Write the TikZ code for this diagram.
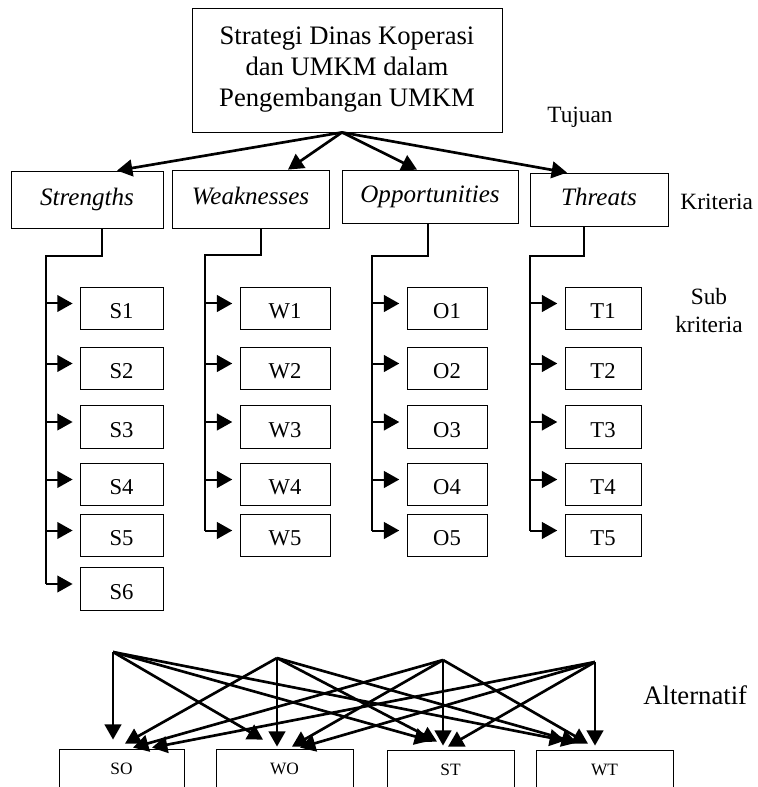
\documentclass[tikz,border=0pt]{standalone}
\usepackage{fontspec}
\setmainfont{Liberation Serif}
\usetikzlibrary{arrows.meta, calc}

\begin{document}
\begin{tikzpicture}[x=0.75pt,y=-0.75pt]
        \useasboundingbox (0,0) rectangle (757,787);
        \clip (0,0) rectangle (757,787);
        \begin{scope}[>={Triangle[length=11.5pt,width=12.5pt]}, line width=0.6pt,
            goal node/.style={rectangle,draw,align=center,minimum width=232.5pt,minimum height=93pt,font=\fontsize{20}{23.25}\selectfont},
            crit node/.style={rectangle,draw,minimum height=42.75pt,text height=13pt,text depth=4pt,font=\itshape\fontsize{18.8}{22}\selectfont},
            sub node/.style={rectangle,draw,minimum height=32pt,text height=15pt,text depth=0pt,font=\fontsize{17}{20}\selectfont},
            alt node/.style={rectangle,draw,minimum height=30pt,font=\fontsize{13}{15}\selectfont},
            side node/.style={inner sep=0pt,align=center,font=\fontsize{17.5}{21}\selectfont},
            main arrow/.style={->,line width=2pt},
            spine/.style={line width=1.5pt}]
        % goal and criteria
        \node[goal node] (goal) at (347,70) {Strategi Dinas Koperasi\\dan UMKM dalam\\Pengembangan UMKM};
        \node[crit node, minimum width=114pt] (str) at (87,199.5) {Strengths};
        \node[crit node, minimum width=117.75pt, minimum height=43.5pt] (wk) at (250.5,199) {Weaknesses};
        \node[crit node, minimum width=132pt, minimum height=39.75pt] (opp) at (430,196.5) {Opportunities};
        \node[crit node, minimum width=103.5pt, minimum height=39.75pt] (thr) at (599,199.5) {Threats};
        % level labels
        \node[side node] (goalLbl) at (580,117) {Tujuan};
        \node[side node, anchor=west] (critLbl) at (680,202) {Kriteria};
        \node[side node] (subLbl) at (709,311) {Sub\\kriteria};
        \node[side node, anchor=west, font=\fontsize{20}{24}\selectfont] (altLbl) at (643,695) {Alternatif};
        % sub criteria
        \foreach \i/\y in {1/308.5,2/368.5,3/427,4/484.5,5/535.5,6/589}
            \node[sub node, minimum width=62.25pt] (S\i) at (121.5,\y) {S\i};
        \foreach \i/\y in {1/308.5,2/368.5,3/427,4/484.5,5/535.5} {
            \node[sub node, minimum width=67.5pt] (W\i) at (285,\y) {W\i};
            \node[sub node, minimum width=60pt] (O\i) at (447,\y) {O\i};
            \node[sub node, minimum width=57pt] (T\i) at (603,\y) {T\i};
        }
        % alternatives
        \node[alt node, minimum width=93.75pt] (SO) at (121.5,769) {SO};
        \node[alt node, minimum width=102.75pt] (WO) at (284.5,769) {WO};
        \node[alt node, minimum width=95.25pt] (ST) at (450.5,770) {ST};
        \node[alt node, minimum width=102.75pt] (WT) at (604.5,770) {WT};

        % goal -> criteria
        \coordinate (apex) at ($(goal.south)+(-5,0)$);
        \draw[main arrow] (apex) -- ($(str.north)+(30,0)$);
        \draw[main arrow] (apex) -- ($(wk.north)+(37.5,0)$);
        \draw[main arrow] (apex) -- ($(opp.north)+(-13,0)$);
        \draw[main arrow] (apex) -- ($(thr.north)+(-32,0)$);

        % criteria -> sub criteria
        \coordinate (sS) at (46,256);
        \coordinate (sW) at (205,255);
        \coordinate (sO) at (372,256);
        \coordinate (sT) at (530,256);
        \draw[spine] ($(str.south)+(15,0)$) |- (sS) -- ($(sS |- S6.west)+(0,-5)$);
        \draw[spine] ($(wk.south)+(10,0)$) |- (sW) -- ($(sW |- W5.west)+(0,-5)$);
        \draw[spine] ($(opp.south)+(-2,0)$) |- (sO) -- ($(sO |- O5.west)+(0,-5)$);
        \draw[spine] ($(thr.south)+(-15,0)$) |- (sT) -- ($(sT |- T5.west)+(0,-5)$);
        \foreach \i in {1,...,6}
            \draw[spine,->,shorten >=5.25pt] ($(sS |- S\i.west)+(0,-5)$) -- ($(S\i.west)+(0,-5)$);
        \foreach \c in {W,O,T}
            \foreach \i in {1,...,5}
                \draw[spine,->,shorten >=5.5pt] ($(s\c |- \c\i.west)+(0,-5)$) -- ($(\c\i.west)+(0,-5)$);

        % criteria -> alternatives
        \coordinate (fS) at (113,652);
        \coordinate (fW) at (277,658);
        \coordinate (fO) at (443,660);
        \coordinate (fT) at (595,662);
        \foreach \src/\dst/\dx/\dy in {fS/SO/-8.5/-9, fW/SO/3.5/-5, fO/SO/11.5/-1, fT/SO/30.5/-1,
                fS/WO/-21.5/-9, fW/WO/-7.5/-2, fO/WO/7.5/-2, fT/WO/15.5/-1,
                fS/ST/-20.5/-9, fW/ST/-13.5/-8, fO/ST/-7.5/-4, fT/ST/-2.5/-3,
                fS/WT/-39.5/-9, fW/WT/-27.5/-7, fO/WT/-16.5/-6, fT/WT/-9.5/-4}
            \draw[main arrow] (\src) -- ($(\dst.north)+(\dx,\dy)$);
        \end{scope}
    \end{tikzpicture}
\end{document}
